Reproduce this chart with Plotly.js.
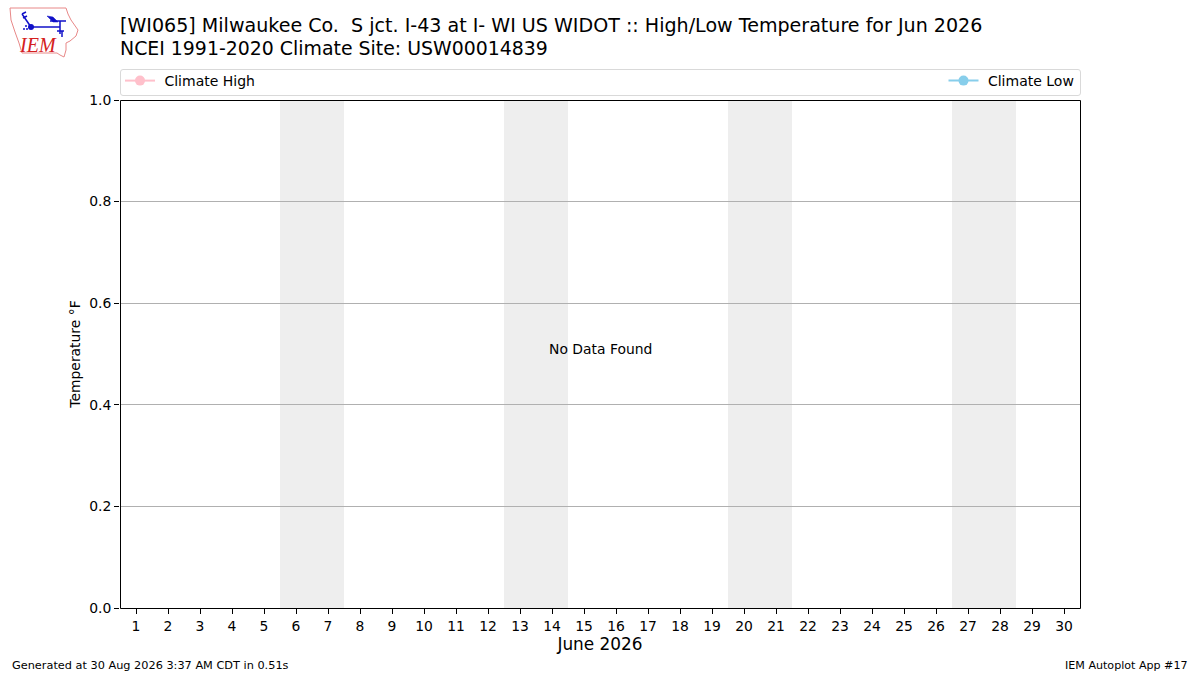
<!DOCTYPE html>
<html><head><meta charset="utf-8">
<script src="https://cdn.plot.ly/plotly-3.0.1.min.js"></script>
<style>html,body{margin:0;padding:0;background:#fff}#c{width:1200px;height:675px}</style>
</head><body><div id="c"></div>
<script>
const days = Array.from({length:30},(_,i)=>i+1);
const tickLabels = days.map(String);
const weekends = [[5.5,7.5],[12.5,14.5],[19.5,21.5],[26.5,28.5]];
const climateHigh = days.map(()=>null);
const climateLow = days.map(()=>null);
const yTicks = [0,0.2,0.4,0.6,0.8,1.0];
const yTickLabels = ['0.0','0.2','0.4','0.6','0.8','1.0'];
const titleLines = ['[WI065] Milwaukee Co.  S jct. I-43 at I- WI US WIDOT :: High/Low Temperature for Jun 2026','NCEI 1991-2020 Climate Site: USW00014839'];
const F='DejaVu Sans';
const L=120,R=1080,T=100,B=608;
const px=x=>(x-L)/(R-L), py=y=>(B-y)/(B-T);
const toPaper=p=>p.replace(/(\d+(?:\.\d+)?) (\d+(?:\.\d+)?)/g,(m,a,b)=>px(+a)+' '+py(+b));
const pathShape=(p,color,fill,w)=>({type:'path',xref:'paper',yref:'paper',path:toPaper(p),line:{color,width:w},fillcolor:fill});
const traces=[
 {x:days,y:climateHigh,name:'\u00a0Climate High',mode:'lines+markers',line:{color:'#ffc0cb',width:2},marker:{color:'#ffc0cb',size:10},legend:'legend'},
 {x:days,y:climateLow,name:'\u00a0Climate Low',mode:'lines+markers',line:{color:'#87ceeb',width:2},marker:{color:'#87ceeb',size:10},legend:'legend2'}
];
const shapes=weekends.map(w=>({type:'rect',xref:'x',yref:'paper',x0:w[0],x1:w[1],y0:0,y1:1,fillcolor:'#eeeeee',line:{width:0},layer:'below'}));
// axes frame
shapes.push({type:'rect',xref:'paper',yref:'paper',x0:px(120.5),x1:px(1080.5),y0:py(608.5),y1:py(100.5),line:{color:'#000',width:1},fillcolor:'rgba(0,0,0,0)'});
// legend frame with rounded corners
shapes.push(pathShape('M 123 69.5 L 1078 69.5 Q 1080.5 69.5 1080.5 72 L 1080.5 93 Q 1080.5 95.5 1078 95.5 L 123 95.5 Q 120.5 95.5 120.5 93 L 120.5 72 Q 120.5 69.5 123 69.5 Z','#d9d9d9','rgba(0,0,0,0)',1));
// logo
shapes.push(pathShape('M 10 8 L 66 8 L 68 14 L 71 20 L 78 30 L 76 36 L 70 41 L 66 43 L 66 50 L 64 57 L 60 55 L 57 53 L 22 53 L 19 43 L 15 32 L 11 20 Z','#e88888','#fff',1));
shapes.push(pathShape('M 47 16 L 53 17 L 58 22 L 53 22 Z','#1010c8','#1010c8',0.5));
[[[22,14],[31,27]],[[22,14],[26,12]],[[23,18],[27,16]],[[31,27],[60,27]],[[50,21],[66,21]],[[60,21],[60,34]],[[57,31],[64,31]],[[62,31],[62,37]]].forEach(s=>shapes.push({type:'line',xref:'paper',yref:'paper',x0:px(s[0][0]),y0:py(s[0][1]),x1:px(s[1][0]),y1:py(s[1][1]),line:{color:'#1010c8',width:1.5}}));
[[31,27,3],[26,26,1],[24,29,1],[27,29,1]].forEach(c=>shapes.push({type:'circle',xref:'paper',yref:'paper',x0:px(c[0]-c[2]),x1:px(c[0]+c[2]),y0:py(c[1]+c[2]),y1:py(c[1]-c[2]),fillcolor:'#1010c8',line:{width:0}}));
const ann=(x,y,text,size,xa,extra)=>Object.assign({xref:'paper',yref:'paper',x:px(x),y:py(y),text,showarrow:false,xanchor:xa||'left',yanchor:'middle',font:{family:F,size,color:'#000'},borderpad:0,borderwidth:0},extra||{});
const annotations=[
 ann(120,25,titleLines[0],19.08),
 ann(120,48,titleLines[1],18.9),
 ann(600,349,'No Data Found',13.9,'center'),
 ann(12,665,'Generated at 30 Aug 2026 3:37 AM CDT in 0.51s',11.3),
 ann(1188,665,'IEM Autoplot App #17',11.1,'right'),
 ann(37.5,45,'<i>IEM</i>',20,'center',{font:{family:'Liberation Serif',size:20,color:'#d42020'}})
];
const layout={
 width:1200,height:675,paper_bgcolor:'#fff',plot_bgcolor:'#fff',
 margin:{l:L,r:1200-R,t:T,b:675-B,pad:0},
 font:{family:F,size:13.9,color:'#000'},
 showlegend:true,
 legend:{x:px(120),y:py(81),xanchor:'left',yanchor:'middle',orientation:'h',bgcolor:'rgba(0,0,0,0)',borderwidth:0,itemwidth:30,font:{family:F,size:14}},
 legend2:{x:px(1079.5),y:py(81),xanchor:'right',yanchor:'middle',orientation:'h',bgcolor:'rgba(0,0,0,0)',borderwidth:0,itemwidth:30,font:{family:F,size:14}},
 xaxis:{range:[0.5,30.5],tickmode:'array',tickvals:days,ticktext:tickLabels,ticks:'outside',ticklen:5,tickwidth:1,tickcolor:'#000',showgrid:false,zeroline:false,showline:false,tickfont:{family:F,size:13.9},title:{text:'June 2026',font:{family:F,size:16.9},standoff:5}},
 yaxis:{range:[0,1],tickmode:'array',tickvals:yTicks,ticktext:yTickLabels,ticks:'outside',ticklen:5,tickwidth:1,tickcolor:'#000',showgrid:true,gridcolor:'#b0b0b0',gridwidth:1,zeroline:false,showline:false,tickfont:{family:F,size:13.9},title:{text:'Temperature °F',font:{family:F,size:13.9},standoff:5}},
 shapes,annotations
};
Plotly.newPlot('c',traces,layout,{staticPlot:true,displayModeBar:false});
</script></body></html>
